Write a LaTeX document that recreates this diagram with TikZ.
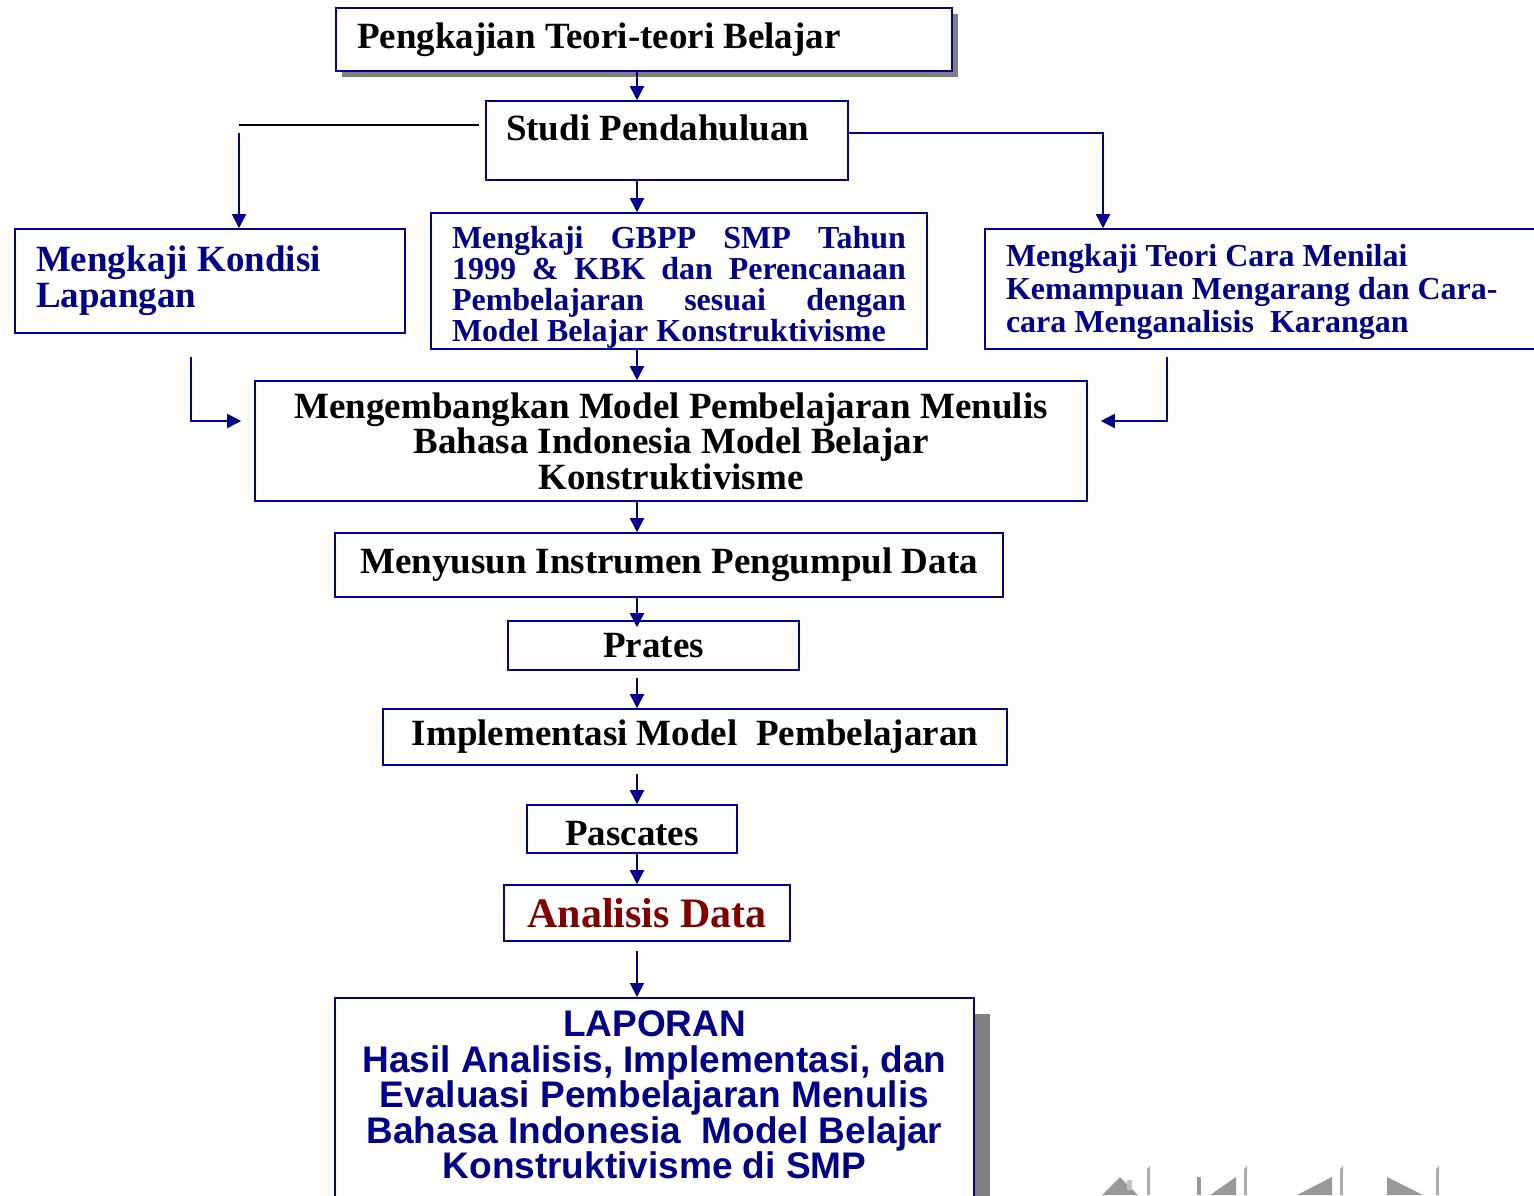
\documentclass[tikz,border=0pt]{standalone}
\usepackage{fontspec}
\setmainfont{Liberation Serif}
\setsansfont{Liberation Sans}
\usetikzlibrary{arrows.meta, shadows}

\definecolor{navyb}{RGB}{0,0,139}
\definecolor{darkred}{RGB}{128,0,0}
\definecolor{navgray}{RGB}{153,153,153}
\definecolor{shadowgray}{RGB}{128,128,128}

\begin{document}
\begin{tikzpicture}[
    x=1pt, y=-1pt,
    >={Triangle[length=14pt, width=14pt]},
    box/.style={draw=navyb, line width=1.6pt, fill=white, inner ysep=2pt, align=flush center,
        font=\fontsize{37}{35.5}\selectfont\bfseries},
    leftbox/.style={box, align=flush left, inner xsep=21pt},
    bluetext/.style={text=navyb},
    boxshadow/.style={drop shadow={shadow xshift=#1, shadow yshift=-#1, fill=shadowgray, opacity=1}},
    arr/.style={->, draw=navyb, line width=1.8pt}
]
    \useasboundingbox (0,0) rectangle (1534,1195);
    \clip (0,0) rectangle (1534,1195);

    % Top Level
    \node[leftbox, boxshadow=6pt, text width=574pt, minimum height=63pt] (KAJIAN) at (644,39.5) {Pengkajian Teori-teori Belajar};
    \node[leftbox, text width=322pt, inner xsep=20pt, minimum height=79pt, text depth=26pt] (STUDI) at (667,140.5) {Studi Pendahuluan};

    % Second Level
    \node[leftbox, bluetext, text width=348pt, minimum height=104pt, font=\fontsize{37}{36}\selectfont\bfseries] (KONDISI) at (210,281) {Mengkaji Kondisi\\Lapangan};
    \node[leftbox, bluetext, text width=454pt, minimum height=136pt, inner ysep=0pt, text height=35pt, font=\fontsize{32}{31}\selectfont\bfseries] (GBPP) at (679,281) {%
        \makebox[454pt][s]{Mengkaji\hfill GBPP\hfill SMP\hfill Tahun}\\
        \makebox[454pt][s]{1999\hfill \&\hfill KBK\hfill dan\hfill Perencanaan}\\
        \makebox[454pt][s]{Pembelajaran\hfill sesuai\hfill dengan}\\
        Model Belajar Konstruktivisme};
    \node[leftbox, bluetext, text width=548pt, minimum height=120pt, text height=28pt, font=\fontsize{32}{33}\selectfont\bfseries] (MENILAI) at (1280,289) {Mengkaji Teori Cara Menilai\\Kemampuan Mengarang dan Cara-\\cara Menganalisis\ \ Karangan};

    % Development and Testing
    \node[box, minimum width=832pt, minimum height=120pt] (MODEL) at (671,441) {Mengembangkan Model Pembelajaran Menulis\\Bahasa Indonesia Model Belajar\\Konstruktivisme};
    \node[box, minimum width=668pt, minimum height=64pt] (INSTRUMEN) at (669,565) {Menyusun Instrumen Pengumpul Data};
    \node[box, minimum width=291pt, minimum height=49pt] (PRATES) at (653.5,645.5) {Prates};
    \node[box, minimum width=624pt, minimum height=56pt] (IMPLEMENTASI) at (695,737) {Implementasi Model\ \ Pembelajaran};
    \node[box, minimum width=210pt, minimum height=48pt, text height=34pt] (PASCATES) at (632,829) {Pascates};
    \node[box, minimum width=286pt, minimum height=56pt, text=darkred, font=\fontsize{42}{44}\selectfont\bfseries] (ANALISIS) at (647,913) {Analisis Data};

    % Report
    \node[box, boxshadow=16pt, anchor=north, minimum width=639pt, inner ysep=13pt, text depth=40pt, text=navyb, font=\fontsize{37}{35.5}\selectfont\sffamily\bfseries] (LAPORAN) at (654.5,997) {LAPORAN\\Hasil Analisis, Implementasi, dan\\Evaluasi Pembelajaran Menulis\\Bahasa Indonesia\ \ Model Belajar\\Konstruktivisme di SMP};

    % Edges
    \coordinate (SPINE) at (637,0);
    \draw[arr] (KAJIAN.south -| SPINE) -- (STUDI.north -| SPINE);
    \draw[arr] (STUDI.south -| SPINE) -- (GBPP.north -| SPINE);
    \draw[arr] (GBPP.south -| SPINE) -- (MODEL.north -| SPINE);
    \draw[arr] (MODEL.south -| SPINE) -- (INSTRUMEN.north -| SPINE);
    \draw[arr, shorten >=-7pt] (INSTRUMEN.south -| SPINE) -- (PRATES.north -| SPINE);
    \draw[arr, shorten <=7pt] (PRATES.south -| SPINE) -- (IMPLEMENTASI.north -| SPINE);
    \draw[arr, shorten <=8pt] (IMPLEMENTASI.south -| SPINE) -- (PASCATES.north -| SPINE);
    \draw[arr] (PASCATES.south -| SPINE) -- (ANALISIS.north -| SPINE);
    \draw[arr, shorten <=9pt] (ANALISIS.south -| SPINE) -- (LAPORAN.north -| SPINE);

    % Studi -> side branches
    \coordinate (LB) at (239,125);
    \coordinate (RB) at (1103,133);
    \draw[black, line width=1.8pt, shorten <=6pt] (STUDI.west |- LB) -- (LB);
    \draw[arr] ([yshift=-8pt]LB) -- (KONDISI.north -| LB);
    \draw[arr] (STUDI.east |- RB) -| (MENILAI.north -| RB);

    % Side boxes -> Model
    \coordinate (KL) at (191,357);
    \coordinate (KR) at (1167,357);
    \draw[arr] (KL) |- ([xshift=-13pt, yshift=20pt]MODEL.west);
    \draw[arr] (KR) |- ([xshift=13pt, yshift=20pt]MODEL.east);

    % Navigation buttons
    \fill[navgray] (1102,1195) -- (1120,1177) -- (1138,1195) -- cycle;
    \fill[navgray!60] (1127,1180) rectangle (1132,1190);
    \fill[navgray] (1197,1177) rectangle (1201,1195);
    \fill[navgray] (1210,1195) -- (1236,1177) -- (1236,1195) -- cycle;
    \fill[navgray] (1297,1195) -- (1332,1177) -- (1332,1195) -- cycle;
    \fill[navgray] (1387,1177) -- (1423,1195) -- (1387,1195) -- cycle;
    \fill[navgray!80] (1147,1169) -- (1150,1166) -- (1150,1195) -- (1147,1195) -- cycle;
    \fill[navgray!80] (1244,1169) -- (1247,1166) -- (1247,1195) -- (1244,1195) -- cycle;
    \fill[navgray!80] (1340,1169) -- (1343,1166) -- (1343,1195) -- (1340,1195) -- cycle;
    \fill[navgray!80] (1436,1169) -- (1439,1166) -- (1439,1195) -- (1436,1195) -- cycle;

\end{tikzpicture}
\end{document}
